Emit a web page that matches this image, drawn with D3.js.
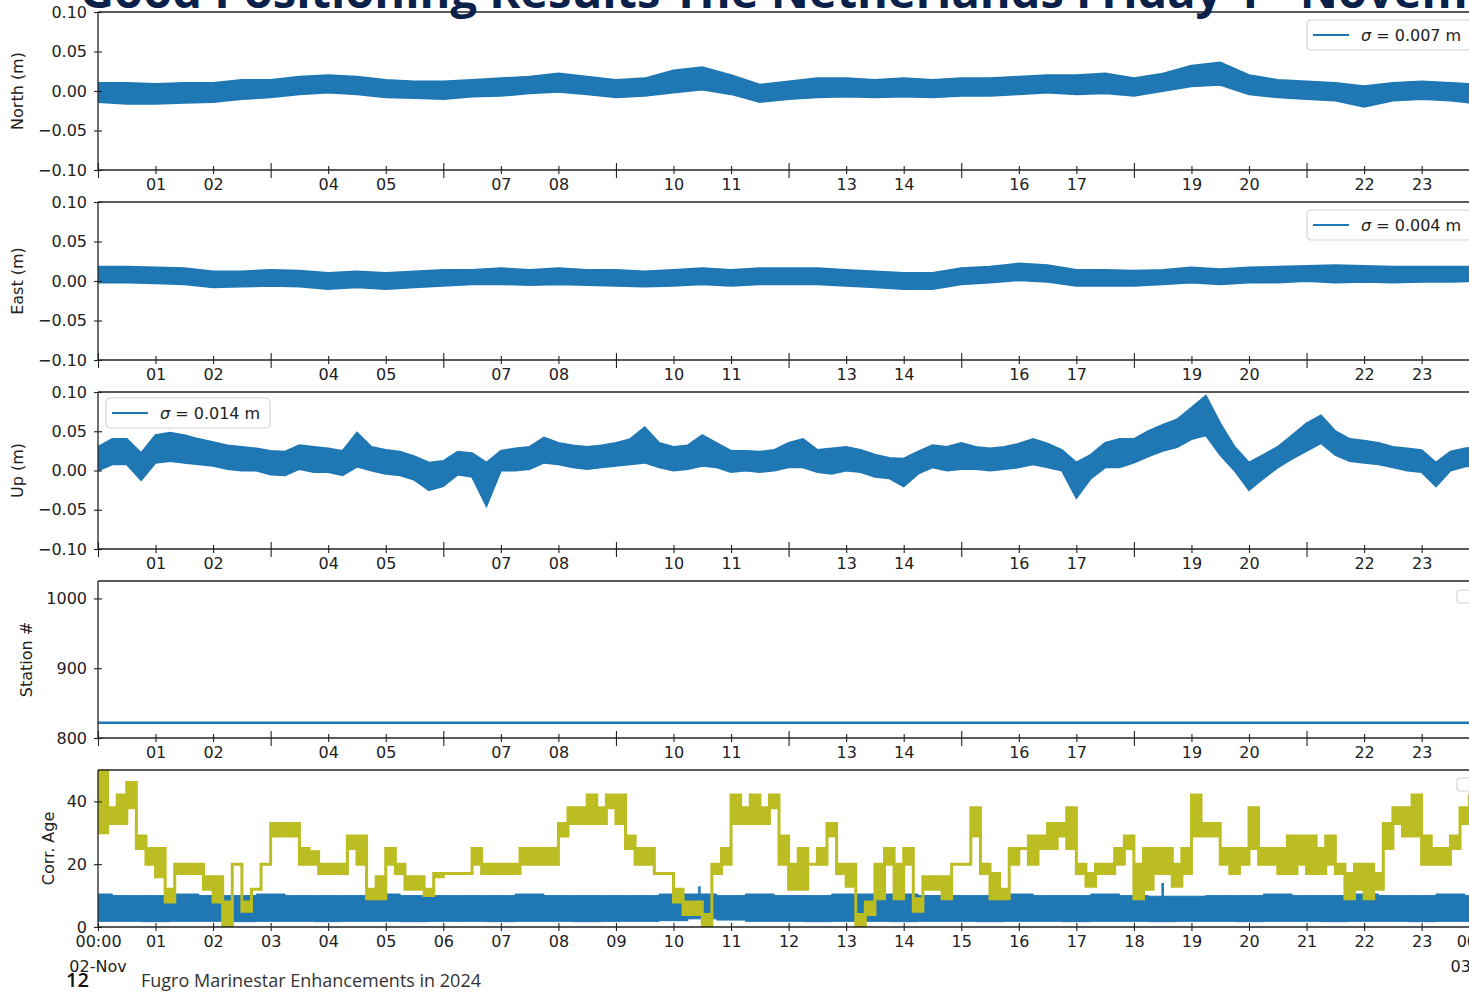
<!DOCTYPE html>
<html>
<head>
<meta charset="utf-8">
<script src="https://cdn.jsdelivr.net/npm/d3@7"></script>
<style>
  body { margin: 0; background: #fff; }
  svg { display: block; }
  .tick text, .axis-title, .legend-text { font-family: "DejaVu Sans", sans-serif; fill: #222; }
  .domain { display: none; }
</style>
</head>
<body>
<div id="chart"></div>
<script>
// ---- data ----
// half-hourly envelopes (00:00 .. 24:00) of the North and East series, in metres
const northLo = [-0.014,-0.016,-0.016,-0.015,-0.014,-0.010,-0.008,-0.004,-0.002,-0.004,-0.008,-0.009,-0.010,-0.007,-0.006,-0.003,-0.001,-0.004,-0.008,-0.006,-0.002,0.002,-0.004,-0.014,-0.010,-0.008,-0.007,-0.008,-0.007,-0.008,-0.006,-0.006,-0.004,-0.002,-0.004,-0.003,-0.006,0.000,0.006,0.008,-0.004,-0.008,-0.010,-0.012,-0.020,-0.012,-0.010,-0.012,-0.016];
const northHi = [0.010,0.010,0.009,0.010,0.010,0.014,0.014,0.018,0.020,0.018,0.014,0.012,0.012,0.014,0.016,0.018,0.022,0.018,0.014,0.016,0.026,0.030,0.020,0.008,0.012,0.016,0.016,0.014,0.016,0.014,0.016,0.016,0.018,0.020,0.020,0.022,0.016,0.022,0.032,0.036,0.020,0.014,0.012,0.010,0.006,0.010,0.012,0.010,0.008];
const eastLo = [-0.002,-0.002,-0.003,-0.004,-0.008,-0.007,-0.006,-0.007,-0.010,-0.008,-0.010,-0.008,-0.006,-0.004,-0.004,-0.005,-0.004,-0.005,-0.006,-0.007,-0.006,-0.004,-0.006,-0.004,-0.004,-0.004,-0.006,-0.008,-0.010,-0.010,-0.004,-0.002,0.001,-0.001,-0.006,-0.006,-0.006,-0.004,-0.002,-0.004,-0.002,-0.002,0.000,-0.002,-0.001,-0.002,-0.001,-0.001,0.000];
const eastHi = [0.018,0.018,0.017,0.016,0.012,0.012,0.014,0.013,0.010,0.012,0.010,0.012,0.014,0.014,0.016,0.014,0.016,0.014,0.014,0.012,0.014,0.016,0.014,0.016,0.016,0.016,0.014,0.012,0.010,0.010,0.016,0.018,0.022,0.020,0.014,0.014,0.013,0.014,0.017,0.015,0.017,0.018,0.019,0.020,0.019,0.018,0.018,0.018,0.018];
// quarter-hourly envelope of the Up series, in metres
const upLo = [0.000,0.008,0.008,-0.012,0.010,0.012,0.010,0.008,0.006,0.002,0.000,0.000,-0.005,-0.006,0.002,-0.002,-0.002,-0.006,0.005,0.000,-0.004,-0.006,-0.012,-0.025,-0.020,-0.005,-0.008,-0.045,0.000,0.000,0.002,0.010,0.008,0.004,0.002,0.004,0.006,0.008,0.010,0.004,0.000,0.002,0.006,0.004,-0.002,0.000,-0.002,0.000,0.004,0.004,-0.002,-0.004,0.000,-0.002,-0.008,-0.010,-0.020,-0.004,0.004,0.000,0.002,0.002,0.000,0.002,0.004,0.008,0.004,0.000,-0.035,-0.010,0.004,0.004,0.010,0.018,0.025,0.030,0.040,0.045,0.020,0.000,-0.025,-0.010,0.004,0.015,0.025,0.035,0.020,0.012,0.010,0.008,0.004,0.000,-0.002,-0.020,0.000,0.005,0.008];
const upHi = [0.030,0.040,0.040,0.022,0.045,0.048,0.045,0.040,0.036,0.032,0.030,0.028,0.025,0.024,0.032,0.030,0.028,0.025,0.048,0.030,0.026,0.024,0.018,0.010,0.012,0.024,0.022,0.010,0.025,0.028,0.030,0.042,0.035,0.032,0.030,0.032,0.035,0.040,0.055,0.035,0.030,0.032,0.045,0.035,0.025,0.025,0.024,0.026,0.035,0.040,0.026,0.028,0.030,0.026,0.020,0.016,0.015,0.024,0.032,0.030,0.035,0.030,0.028,0.030,0.034,0.040,0.034,0.026,0.010,0.020,0.035,0.040,0.040,0.050,0.058,0.065,0.080,0.095,0.060,0.030,0.010,0.020,0.030,0.045,0.060,0.070,0.050,0.040,0.038,0.035,0.030,0.028,0.026,0.010,0.024,0.028,0.030];
// reference station number used all day
const stationNo = 822;
// correction age (s), 10-minute slots: the level of the yellow trace and the level it keeps jumping to
const ageLevel = [30,33,33,38,25,20, 16,8,17,17,17,12, 8,8,20,8,12,20, 29,29,33,25,20,17,
                  17,20,29,29,12,16, 20,20,16,12,12,16, 17,17,17,25,20,17, 20,20,20,20,25,25,
                  33,33,38,33,33,38, 33,25,20,20,17,17, 12,8,4,0,17,25, 33,38,33,33,38,20,
                  20,12,20,20,29,17, 13,4,8,9,25,20, 20,9,12,12,16,20, 20,29,20,17,12,25,
                  25,29,29,33,29,38, 20,13,17,17,20,29, 20,25,17,17,20,25, 42,33,29,20,17,25,
                  38,25,20,25,29,20, 29,25,20,17,17,12, 20,12,25,33,38,29, 20,20,25,25,33,42, 42];
const ageJump = [50,38,42,46,29,25, 25,12,20,20,20,16, 16,0,20,5,12,20, 33,33,29,20,24,20,
                 20,17,25,20,9,9, 25,17,12,16,10,17, 17,17,17,20,17,20, 17,17,25,25,20,20,
                 29,38,33,42,38,42, 42,29,25,25,17,17, 8,4,8,4,20,20, 42,33,42,38,42,29,
                 12,25,20,25,33,20, 20,0,4,20,20,9, 25,5,16,16,9,20, 20,38,17,9,9,20,
                 25,20,25,25,33,25, 17,17,20,20,25,25, 9,12,25,25,13,17, 29,29,33,25,25,20,
                 25,20,25,17,17,29, 17,17,29,20,9,20, 9,17,33,38,29,42, 29,25,20,29,38,38, 42];
// correction age (s): half-hourly band of the blue trace, plus its single spikes
const corrLo = [1.8,1.8,1.7,1.8,1.8,1.7,1.8,1.8,1.7,1.8,1.8,1.7,1.8,1.8,1.7,1.8,1.8,1.7,1.8,1.8,2.0,2.6,2.2,1.8,1.8,1.7,1.8,1.8,1.7,1.8,1.8,1.7,1.8,1.8,1.7,1.8,1.8,1.7,1.8,1.8,1.7,1.8,1.8,1.7,1.8,1.8,1.7,1.8,1.8];
const corrHi = [10.5,10,10,10.5,10,10,10.5,10,10,10,10.5,10,10,10,10,10.5,10,10,10,10,10.5,10.5,10,10.5,10,10,10.5,10.5,10.5,10,10,10,10.5,10,10,10.5,10,9.8,9.8,10,10,10.5,10,10,10.5,10,10,10.5,10];
const spikeHours = [10.45, 18.5];
const spikeValues = [13, 14];
const hourTicks = d3.range(0, 25);

// ---- layout ----
const width = 1469, height = 993;
const x0 = 98, pxPerHour = 57.55;
const t0 = Date.UTC(2024, 10, 2);
const toDate = h => new Date(t0 + h * 3600e3);
const blue = "#1f77b4", olive = "#bcbd22";
const fontSize = "16px";

const x = d3.scaleUtc()
  .domain([toDate(0), toDate(24)])
  .range([x0, x0 + 24 * pxPerHour]);

const panels = [
  {key: "north", top: 12, bottom: 170, domain: [-0.1, 0.1], ticks: [-0.1, -0.05, 0, 0.05, 0.1], title: "North (m)", titleX: 17},
  {key: "east", top: 202, bottom: 360, domain: [-0.1, 0.1], ticks: [-0.1, -0.05, 0, 0.05, 0.1], title: "East (m)", titleX: 17},
  {key: "up", top: 392, bottom: 549, domain: [-0.1, 0.1], ticks: [-0.1, -0.05, 0, 0.05, 0.1], title: "Up (m)", titleX: 17},
  {key: "station", top: 581, bottom: 738, domain: [800, 1025], ticks: [800, 900, 1000], title: "Station #", titleX: 26},
  {key: "corr", top: 770, bottom: 927, domain: [0, 50], ticks: [0, 20, 40], title: "Corr. Age", titleX: 48}
];

const svg = d3.select("#chart").append("svg")
  .attr("width", width)
  .attr("height", height)
  .style("background", "#fff");

const metres = d => d3.format(".2f")(d).replace("-", "\u2212");

panels.forEach((p, i) => {
  const y = d3.scaleLinear().domain(p.domain).range([p.bottom, p.top]);
  const g = svg.append("g").attr("class", `panel ${p.key}`);

  g.append("clipPath").attr("id", `clip-${p.key}`)
    .append("rect")
    .attr("x", x0).attr("y", p.top)
    .attr("width", 24 * pxPerHour).attr("height", p.bottom - p.top);

  const plot = g.append("g").attr("clip-path", `url(#clip-${p.key})`);

  // series
  if (p.key === "north" || p.key === "east" || p.key === "up") {
    const lo = p.key === "north" ? northLo : p.key === "east" ? eastLo : upLo;
    const hi = p.key === "north" ? northHi : p.key === "east" ? eastHi : upHi;
    const step = 24 / (lo.length - 1);
    const pts = lo.map((d, j) => ({h: j * step, lo: d, hi: hi[j]}));
    plot.append("path")
      .datum(pts)
      .attr("fill", blue)
      .attr("stroke", blue)
      .attr("stroke-width", 2)
      .attr("stroke-linejoin", "miter")
      .attr("d", d3.area().x(d => x(toDate(d.h))).y0(d => y(d.lo)).y1(d => y(d.hi)));
  }
  if (p.key === "station") {
    plot.append("line")
      .attr("x1", x(toDate(0))).attr("x2", x(toDate(24)))
      .attr("y1", y(stationNo)).attr("y2", y(stationNo))
      .attr("stroke", blue).attr("stroke-width", 2.5);
  }
  if (p.key === "corr") {
    const cpts = corrLo.map((d, j) => ({h: j * 0.5, lo: d, hi: corrHi[j]}));
    plot.append("path")
      .datum(cpts)
      .attr("fill", blue)
      .attr("stroke", blue)
      .attr("stroke-width", 1)
      .attr("d", d3.area().curve(d3.curveStep).x(d => x(toDate(d.h))).y0(d => y(d.lo)).y1(d => y(d.hi)));
    plot.selectAll(".spike")
      .data(spikeHours)
      .join("line")
      .attr("class", "spike")
      .attr("x1", d => x(toDate(d))).attr("x2", d => x(toDate(d)))
      .attr("y1", y(9)).attr("y2", (d, j) => y(spikeValues[j]))
      .attr("stroke", blue).attr("stroke-width", 2.5);

    const apts = ageLevel.map((d, j) => ({h: j / 6, lo: d, hi: ageJump[j]}));
    plot.append("path")
      .datum(apts)
      .attr("fill", olive)
      .attr("stroke", olive)
      .attr("stroke-width", 3)
      .attr("d", d3.area().curve(d3.curveStepAfter).x(d => x(toDate(d.h))).y0(d => y(d.lo)).y1(d => y(d.hi)));
  }

  // top spine
  g.append("line")
    .attr("x1", x0).attr("x2", width)
    .attr("y1", p.top).attr("y2", p.top)
    .attr("stroke", "#222").attr("stroke-width", 1.3);

  // y axis, ticks crossing the spine
  const yAxis = d3.axisLeft(y)
    .tickValues(p.ticks)
    .tickSize(4)
    .tickPadding(7)
    .tickFormat(p.domain[1] < 1 ? metres : d3.format("d"));
  const ya = g.append("g")
    .attr("class", "axis y")
    .attr("transform", `translate(${x0},0)`)
    .call(yAxis);
  ya.selectAll(".tick line").attr("x1", 4).attr("stroke", "#222").attr("stroke-width", 1.1);
  ya.selectAll(".tick text").style("font-size", fontSize);
  g.append("line")
    .attr("x1", x0).attr("x2", x0)
    .attr("y1", p.top).attr("y2", p.bottom)
    .attr("stroke", "#222").attr("stroke-width", 1.3);

  // x axis
  const last = i === panels.length - 1;
  const isMajor = d => !last && ((d - t0) / 3600e3) % 3 === 0;
  const xa = g.append("g")
    .attr("class", "axis x")
    .attr("transform", `translate(0,${p.bottom})`)
    .call(d3.axisBottom(x)
      .tickValues(hourTicks.map(toDate))
      .tickSize(4)
      .tickPadding(5)
      .tickFormat(d => {
        const h = (d - t0) / 3600e3;
        if (last) return h % 24 === 0 ? "00:00" : d3.utcFormat("%H")(d);
        return (h % 3 === 0) ? "" : d3.utcFormat("%H")(d);
      }));
  xa.selectAll(".tick line")
    .attr("stroke", "#222").attr("stroke-width", 1.1)
    .attr("y1", d => isMajor(d) ? -7 : -4)
    .attr("y2", d => isMajor(d) ? 8 : 4);
  xa.selectAll(".tick text").style("font-size", fontSize);
  g.append("line")
    .attr("x1", x0).attr("x2", width)
    .attr("y1", p.bottom).attr("y2", p.bottom)
    .attr("stroke", "#222").attr("stroke-width", 1.3);

  if (last) {
    // second line of the day-boundary labels
    [0, 24].forEach(h => {
      xa.append("text")
        .attr("class", "legend-text")
        .attr("x", x(toDate(h)))
        .attr("y", 45)
        .attr("text-anchor", "middle")
        .style("font-size", fontSize)
        .text(d3.utcFormat("%d-%b")(toDate(h)));
    });
  }

  // y axis title
  svg.append("text")
    .attr("class", "axis-title")
    .attr("transform", `translate(${p.titleX},${(p.top + p.bottom) / 2})rotate(-90)`)
    .attr("text-anchor", "middle")
    .attr("dy", "0.35em")
    .style("font-size", fontSize)
    .text(p.title);
});

// legends
const legends = [
  {x: 1307, y: 20, label: " = 0.007 m"},
  {x: 1307, y: 210, label: " = 0.004 m"},
  {x: 106, y: 398, label: " = 0.014 m"}
];
legends.forEach(l => {
  const lg = svg.append("g").attr("transform", `translate(${l.x},${l.y})`);
  lg.append("rect")
    .attr("width", 164).attr("height", 30).attr("rx", 4)
    .attr("fill", "#fff").attr("fill-opacity", 0.85)
    .attr("stroke", "#d4d4d4").attr("stroke-width", 1.2);
  lg.append("line")
    .attr("x1", 6).attr("x2", 42).attr("y1", 15).attr("y2", 15)
    .attr("stroke", blue).attr("stroke-width", 2);
  const t = lg.append("text")
    .attr("class", "legend-text")
    .attr("x", 54).attr("y", 15).attr("dy", "0.35em")
    .style("font-size", fontSize);
  t.append("tspan").style("font-style", "italic").text("\u03c3");
  t.append("tspan").text(l.label);
});
// empty legend boxes of the two lower panels
[590, 778].forEach(yy => {
  svg.append("rect")
    .attr("x", 1457).attr("y", yy).attr("width", 20).attr("height", 13).attr("rx", 3)
    .attr("fill", "#fff").attr("stroke", "#d4d4d4").attr("stroke-width", 1.2);
});

// slide title (cut off by the top edge) and footer
const title = svg.append("text")
  .attr("x", 80).attr("y", 8)
  .style("font-family", "'Open Sans', sans-serif")
  .style("font-weight", 700)
  .style("font-size", "47px")
  .attr("fill", "#0b2149");
title.append("tspan").text("Good Positioning Results The Netherlands Friday 1");
title.append("tspan").attr("baseline-shift", "super").style("font-size", "28px").text("st");
title.append("tspan").text(" November 2024");

svg.append("text")
  .attr("x", 66).attr("y", 987)
  .style("font-family", "'Open Sans', sans-serif")
  .style("font-weight", 600)
  .style("font-size", "20px")
  .attr("fill", "#111")
  .text("12");
svg.append("text")
  .attr("x", 141).attr("y", 987)
  .style("font-family", "'Open Sans', sans-serif")
  .style("font-size", "18px")
  .attr("fill", "#333")
  .text("Fugro Marinestar Enhancements in 2024");
</script>
</body>
</html>
